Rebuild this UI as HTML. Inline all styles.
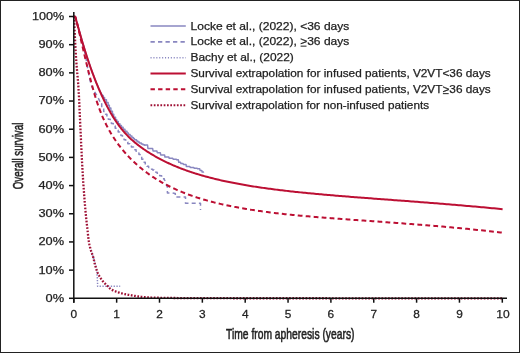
<!DOCTYPE html>
<html><head><meta charset="utf-8"><style>
html,body{margin:0;padding:0;background:#fff;}
body{width:520px;height:353px;overflow:hidden;position:relative;}
svg{position:absolute;left:0;top:0;will-change:transform;}
text{font-family:"Liberation Sans",sans-serif;fill:#222;stroke:#222;stroke-width:0.25px;}
</style></head><body>
<svg width="520" height="353" viewBox="0 0 520 353">
<rect x="0.5" y="0.5" width="519" height="352" fill="#fff" stroke="#222" stroke-width="1"/>
<g fill="none" stroke-linejoin="round">
<path d="M90.80,250.00 L91.13,250.90 L91.45,251.83 L91.78,252.77 L92.11,253.74 L92.43,254.73 L92.76,255.73 L93.08,256.75 L93.41,257.79 L93.74,258.84 L94.06,259.93 L94.39,261.04 L94.72,262.20 L95.04,263.37 L95.37,264.55 L95.69,265.80 L96.02,267.17 L96.35,268.74 L96.67,270.62 L97.00,272.70 L97.6,284 V286.3 H120.2" stroke="#8987c0" stroke-width="1.5" stroke-dasharray="1.3 1.5"/>
<path d="M74.00,16.68 L74.67,16.68 L75.33,16.68 L76.00,18.86 L76.67,21.64 L77.33,24.46 L78.00,27.24 L78.67,29.95 L79.33,32.57 L80.00,35.10 L80.67,37.52 L81.33,39.83 L82.00,42.06 L82.67,44.32 L83.33,46.70 L84.00,49.27 L84.67,52.09 L85.33,55.19 L86.00,58.63 L86.67,62.38 L87.33,66.29 L88.00,70.18 L88.67,73.91 L89.33,77.34 L90.00,80.36 L90.67,82.92 L91.33,85.07 L92.00,86.88 L92.67,88.43 L93.33,89.76 L94.00,90.94 L94.67,92.00 L95.33,93.00 L96.00,94.02 L96.67,95.11 L97.33,96.29 L98.00,97.58 L98.67,98.93 L99.33,100.35 L100.00,101.79  L100.00,101.79 V103.68 H101.72 V107.67 H103.70 V111.49 H105.57 V114.36 H106.90 V116.63 H108.31 V119.22 H110.27 V121.45 H111.39 V123.54 H113.30 V126.05 H115.19 V128.27 H116.76 V130.16 H118.17 V131.93 H119.56 V133.68 H120.92 V135.55 H122.47 V137.62 H124.07 V139.72 H125.72 V141.89 H127.80 V143.81 H129.68 V145.33 H131.40 V146.89 H133.47 V148.38 H134.79 V149.64 H136.07 V151.25 H137.77 V152.98 H138.94 V154.53 H140.09 V156.57 H141.71 V159.18 H143.27 V162.16 H145.27 V164.68 H147.00 V166.30 H148.61 V167.52 H150.21 V168.49 H151.57 V169.29 H152.70 V170.07 H154.00 V171.09 H155.79 V172.17 H157.10 V173.22 H158.57 V174.29 H159.70 V175.66 H161.61 V177.27 H162.88 V178.76 H164.26 V179.75 H164.50 L166.3,184 L167.4,187.5 V193 H172.5 L175.3,193.6 V197 H185.5 V203.3 H200.5 V210.1" stroke="#8987c0" stroke-width="1.5" stroke-dasharray="4 3.2"/>
<path d="M74.00,16.50 L74.72,16.50 L75.44,17.61 L76.15,19.91 L76.87,22.37 L77.59,24.88 L78.31,27.43 L79.03,29.98 L79.74,32.53 L80.46,35.05 L81.18,37.55 L81.90,40.03 L82.62,42.47 L83.33,44.89 L84.05,47.27 L84.77,49.61 L85.49,51.93 L86.21,54.20 L86.92,56.45 L87.64,58.65 L88.36,60.83 L89.08,62.96 L89.79,65.07 L90.51,67.13 L91.23,69.17 L91.95,71.16 L92.67,73.13 L93.38,75.06 L94.10,76.95 L94.82,78.81 L95.54,80.64 L96.26,82.43 L96.97,84.19 L97.69,85.91 L98.41,87.59 L99.13,89.21 L99.85,90.72 L100.56,92.11 L101.28,93.38 L102.00,94.57  L102.00,94.57 V95.51 H103.20 V97.41 H104.55 V99.80 H106.44 V102.59 H108.12 V105.14 H109.33 V107.90 H110.86 V111.27 H112.44 V114.28 H113.72 V117.18 H115.54 V119.67 H116.77 V121.62 H118.27 V123.63 H119.88 V125.49 H121.42 V127.27 H123.10 V129.14 H124.93 V131.18 H126.97 V132.93 H128.36 V134.47 H130.10 V136.12 H131.89 V137.53 H133.29 V138.59 H134.41 V139.83 H136.47 V141.04 H137.87 V141.94 H139.29 V142.95 H141.27 V143.96 H142.95 V144.82 H144.53 V145.34 H145.00 H145.00 L145.40,145.10 H147.55 L147.95,148.50 H152.65 L153.05,151.00 H156.90 L157.30,152.70 H160.30 L160.70,154.90 H164.55 L164.95,157.00 H168.80 L169.20,158.30 H172.75 L173.15,159.30 H176.25 L176.65,159.80 H178.35 L178.75,162.30 H180.50 L180.90,163.60 H183.05 L183.45,164.40 H186.00 L186.40,166.60 H189.85 L190.25,167.40 H193.70 L194.10,168.30 H197.10 L197.50,168.70 H199.65 L200.05,170.40 H201.75 L202.15,172.10 H203.4 V172.8" stroke="#8987c0" stroke-width="1.5"/>
<path d="M74.00,16.50 L74.00,16.51 L74.00,16.55 L74.01,16.63 L74.01,16.74 L74.02,16.89 L74.03,17.09 L74.04,17.32 L74.05,17.61 L74.06,17.93 L74.08,18.30 L74.10,18.72 L74.12,19.19 L74.14,19.71 L74.16,20.27 L74.19,20.89 L74.22,21.55 L74.25,22.26 L74.29,23.03 L74.32,23.84 L74.36,24.71 L74.40,25.63 L74.45,26.59 L74.49,27.61 L74.54,28.68 L74.59,29.80 L74.64,30.97 L74.70,32.21 L74.76,33.51 L74.82,34.87 L74.88,36.28 L74.95,37.73 L75.02,39.23 L75.09,40.75 L75.16,42.28 L75.24,43.82 L75.32,45.33 L75.40,46.85 L75.48,48.38 L75.57,49.93 L75.66,51.48 L75.75,53.05 L75.85,54.61 L75.95,56.18 L76.05,57.74 L76.15,59.31 L76.26,60.86 L76.37,62.38 L76.48,63.88 L76.60,65.35 L76.71,66.81 L76.84,68.25 L76.96,69.68 L77.09,71.12 L77.22,72.57 L77.35,74.04 L77.48,75.55 L77.62,77.11 L77.76,78.74 L77.91,80.46 L78.05,82.28 L78.20,84.24 L78.36,86.35 L78.51,88.65 L78.67,91.17 L78.83,94.01 L79.00,97.14 L79.17,100.55 L79.34,104.20 L79.51,108.05 L79.69,112.05 L79.87,116.16 L80.05,120.32 L80.24,124.48 L80.43,128.55 L80.62,132.55 L80.82,136.64 L81.02,140.83 L81.22,145.08 L81.43,149.38 L81.63,153.68 L81.85,157.95 L82.06,162.15 L82.28,166.24 L82.50,170.17 L82.72,173.95 L82.95,177.61 L83.18,181.15 L83.41,184.58 L83.65,187.91 L83.89,191.19 L84.13,194.45 L84.38,197.66 L84.63,200.83 L84.88,203.94 L85.14,206.99 L85.40,209.96 L85.66,212.85 L85.93,215.64 L86.20,218.31 L86.47,220.88 L86.75,223.38 L87.03,225.85 L87.31,228.33 L87.60,230.86 L87.88,233.55 L88.18,236.28 L88.47,238.87 L88.77,241.11 L89.08,242.88 L89.38,244.43 L89.69,245.82 L90.00,247.10 L90.32,248.29 L90.64,249.43 L90.96,250.55 L91.29,251.57 L91.62,252.51 L91.95,253.42 L92.29,254.33 L92.63,255.29 L92.97,256.36 L93.32,257.59 L93.67,259.02 L94.02,260.58 L94.38,262.19 L94.74,263.76 L95.10,265.21 L95.47,266.45 L95.84,267.62 L96.21,268.75 L96.59,269.85 L96.97,270.90 L97.36,271.90 L97.74,272.85 L98.14,273.74 L98.53,274.57 L98.93,275.33 L99.33,276.06 L99.74,276.76 L100.15,277.43 L100.56,278.06 L100.97,278.68 L101.39,279.27 L101.82,279.84 L102.24,280.39 L102.67,280.94 L103.11,281.47 L103.55,281.99 L103.99,282.50 L104.43,282.99 L104.88,283.46 L105.33,283.92 L105.79,284.37 L106.25,284.82 L106.71,285.26 L107.17,285.70 L107.64,286.15 L108.12,286.61 L108.59,287.09 L109.07,287.58 L109.56,288.05 L110.05,288.51 L110.54,288.93 L111.03,289.29 L111.53,289.60 L112.03,289.88 L112.54,290.13 L113.05,290.37 L113.56,290.60 L114.08,290.81 L114.60,291.02 L115.12,291.22 L115.65,291.42 L116.18,291.62 L116.72,291.81 L117.26,292.00 L117.80,292.18 L118.35,292.36 L118.90,292.53 L119.45,292.70 L120.01,292.87 L120.57,293.04 L121.13,293.20 L121.70,293.36 L122.27,293.51 L122.85,293.67 L123.43,293.82 L124.01,293.96 L124.60,294.10 L125.19,294.23 L125.78,294.36 L126.38,294.48 L126.99,294.59 L127.59,294.70 L128.20,294.81 L128.81,294.91 L129.43,295.01 L130.05,295.11 L130.68,295.21 L131.31,295.31 L131.94,295.41 L132.57,295.51 L133.21,295.62 L133.86,295.73 L134.50,295.84 L135.16,295.96 L135.81,296.07 L136.47,296.19 L137.13,296.30 L137.80,296.41 L138.47,296.51 L139.14,296.60 L139.82,296.68 L140.50,296.75 L141.19,296.82 L141.88,296.89 L142.57,296.96 L143.27,297.02 L143.97,297.09 L144.67,297.15 L145.38,297.20 L146.09,297.26 L146.81,297.31 L147.53,297.36 L148.26,297.40 L148.98,297.44 L149.72,297.47 L150.45,297.50 L151.19,297.53 L151.93,297.55 L152.68,297.58 L153.43,297.60 L154.19,297.63 L154.95,297.65 L155.71,297.67 L156.48,297.69 L157.25,297.71 L158.02,297.73 L158.80,297.75 L159.58,297.76 L160.37,297.78 L161.16,297.79 L161.96,297.81 L162.75,297.82 L163.56,297.84 L164.36,297.85 L165.17,297.86 L165.99,297.88 L166.80,297.89 L167.63,297.90 L168.45,297.91 L169.28,297.92 L170.12,297.93 L170.95,297.94 L171.79,297.96 L172.64,297.97 L173.49,297.98 L174.34,297.99 L175.20,298.00 L176.06,298.01 L176.93,298.02 L177.80,298.03 L178.67,298.04 L179.55,298.05 L180.43,298.07 L181.32,298.08 L182.21,298.09 L183.10,298.09 L184.00,298.10 L184.90,298.11 L185.80,298.12 L186.71,298.13 L187.63,298.14 L188.55,298.15 L189.47,298.15 L190.39,298.16 L191.32,298.17 L192.26,298.17 L193.19,298.18 L194.14,298.18 L195.08,298.19 L196.03,298.19 L196.99,298.19 L197.94,298.20 L198.91,298.20 L199.87,298.20 L200.84,298.20 L201.82,298.20 L202.80,298.20 L203.78,298.20 L204.76,298.20 L205.76,298.20 L206.75,298.21 L207.75,298.21 L208.75,298.21 L209.76,298.21 L210.77,298.21 L211.79,298.21 L212.80,298.21 L213.83,298.21 L214.86,298.21 L215.89,298.21 L216.92,298.21 L217.96,298.21 L219.01,298.22 L220.05,298.22 L221.11,298.22 L222.16,298.22 L223.22,298.22 L224.29,298.22 L225.36,298.22 L226.43,298.22 L227.51,298.22 L228.59,298.22 L229.67,298.22 L230.76,298.22 L231.85,298.22 L232.95,298.23 L234.05,298.23 L235.16,298.23 L236.27,298.23 L237.38,298.23 L238.50,298.23 L239.63,298.23 L240.75,298.23 L241.88,298.23 L243.02,298.23 L244.16,298.23 L245.30,298.23 L246.45,298.23 L247.60,298.24 L248.76,298.24 L249.92,298.24 L251.08,298.24 L252.25,298.24 L253.42,298.24 L254.60,298.24 L255.78,298.24 L256.96,298.24 L258.15,298.24 L259.35,298.24 L260.55,298.24 L261.75,298.24 L262.95,298.24 L264.16,298.25 L265.38,298.25 L266.60,298.25 L267.82,298.25 L269.05,298.25 L270.28,298.25 L271.52,298.25 L272.76,298.25 L274.00,298.25 L275.25,298.25 L276.50,298.25 L277.76,298.25 L279.02,298.25 L280.29,298.25 L281.56,298.26 L282.83,298.26 L284.11,298.26 L285.39,298.26 L286.68,298.26 L287.97,298.26 L289.26,298.26 L290.56,298.26 L291.87,298.26 L293.18,298.26 L294.49,298.26 L295.80,298.26 L297.13,298.26 L298.45,298.26 L299.78,298.26 L301.11,298.26 L302.45,298.26 L303.79,298.27 L305.14,298.27 L306.49,298.27 L307.85,298.27 L309.21,298.27 L310.57,298.27 L311.94,298.27 L313.31,298.27 L314.69,298.27 L316.07,298.27 L317.46,298.27 L318.84,298.27 L320.24,298.27 L321.64,298.27 L323.04,298.27 L324.45,298.27 L325.86,298.27 L327.27,298.27 L328.69,298.28 L330.12,298.28 L331.55,298.28 L332.98,298.28 L334.42,298.28 L335.86,298.28 L337.30,298.28 L338.76,298.28 L340.21,298.28 L341.67,298.28 L343.13,298.28 L344.60,298.28 L346.07,298.28 L347.55,298.28 L349.03,298.28 L350.51,298.28 L352.00,298.28 L353.50,298.28 L355.00,298.28 L356.50,298.28 L358.01,298.28 L359.52,298.28 L361.03,298.28 L362.55,298.29 L364.08,298.29 L365.61,298.29 L367.14,298.29 L368.68,298.29 L370.22,298.29 L371.77,298.29 L373.32,298.29 L374.87,298.29 L376.43,298.29 L378.00,298.29 L379.56,298.29 L381.14,298.29 L382.71,298.29 L384.30,298.29 L385.88,298.29 L387.47,298.29 L389.07,298.29 L390.67,298.29 L392.27,298.29 L393.88,298.29 L395.49,298.29 L397.11,298.29 L398.73,298.29 L400.36,298.29 L401.99,298.29 L403.62,298.29 L405.26,298.29 L406.90,298.29 L408.55,298.29 L410.20,298.29 L411.86,298.29 L413.52,298.29 L415.19,298.30 L416.86,298.30 L418.53,298.30 L420.21,298.30 L421.90,298.30 L423.58,298.30 L425.28,298.30 L426.97,298.30 L428.68,298.30 L430.38,298.30 L432.09,298.30 L433.81,298.30 L435.53,298.30 L437.25,298.30 L438.98,298.30 L440.71,298.30 L442.45,298.30 L444.19,298.30 L445.94,298.30 L447.69,298.30 L449.44,298.30 L451.20,298.30 L452.97,298.30 L454.73,298.30 L456.51,298.30 L458.28,298.30 L460.07,298.30 L461.85,298.30 L463.64,298.30 L465.44,298.30 L467.24,298.30 L469.04,298.30 L470.85,298.30 L472.67,298.30 L474.49,298.30 L476.31,298.30 L478.14,298.30 L479.97,298.30 L481.80,298.30 L483.64,298.30 L485.49,298.30 L487.34,298.30 L489.19,298.30 L491.05,298.30 L492.92,298.30 L494.78,298.30 L496.66,298.30 L498.53,298.30 L500.41,298.30 L502.30,298.30" stroke="#9e1034" stroke-width="2.3" stroke-dasharray="1.7 1.6"/>
<path d="M74.00,16.76 L74.00,16.76 L74.01,16.76 L74.02,16.76 L74.04,16.76 L74.07,16.76 L74.10,16.76 L74.13,16.76 L74.17,16.76 L74.22,16.76 L74.27,16.76 L74.33,16.76 L74.39,16.76 L74.45,16.76 L74.53,16.76 L74.61,16.76 L74.69,16.76 L74.78,16.76 L74.87,16.76 L74.97,16.76 L75.08,16.76 L75.19,16.76 L75.30,16.76 L75.42,16.93 L75.55,17.35 L75.68,17.80 L75.82,18.29 L75.96,18.80 L76.11,19.36 L76.26,19.94 L76.42,20.56 L76.59,21.20 L76.76,21.88 L76.93,22.59 L77.11,23.33 L77.30,24.09 L77.49,24.89 L77.69,25.71 L77.89,26.57 L78.09,27.45 L78.31,28.36 L78.53,29.29 L78.75,30.26 L78.98,31.24 L79.21,32.26 L79.45,33.30 L79.70,34.36 L79.95,35.45 L80.20,36.56 L80.46,37.70 L80.73,38.86 L81.00,40.04 L81.28,41.24 L81.56,42.47 L81.85,43.71 L82.14,44.98 L82.44,46.27 L82.75,47.58 L83.06,48.91 L83.37,50.25 L83.69,51.62 L84.02,53.00 L84.35,54.41 L84.69,55.83 L85.03,57.26 L85.37,58.72 L85.73,60.19 L86.09,61.67 L86.45,63.17 L86.82,64.69 L87.19,66.22 L87.57,67.76 L87.96,69.32 L88.35,70.89 L88.74,72.47 L89.14,74.07 L89.55,75.68 L89.96,77.30 L90.38,78.92 L90.80,80.56 L91.23,82.20 L91.66,83.84 L92.10,85.48 L92.55,87.12 L93.00,88.76 L93.45,90.39 L93.91,92.01 L94.38,93.62 L94.85,95.22 L95.32,96.80 L95.81,98.36 L96.29,99.90 L96.79,101.42 L97.28,102.92 L97.79,104.40 L98.30,105.85 L98.81,107.29 L99.33,108.70 L99.86,110.10 L100.39,111.47 L100.92,112.83 L101.46,114.16 L102.01,115.48 L102.56,116.78 L103.12,118.06 L103.68,119.32 L104.25,120.56 L104.82,121.79 L105.40,123.00 L105.99,124.19 L106.58,125.37 L107.17,126.53 L107.77,127.67 L108.38,128.80 L108.99,129.92 L109.60,131.02 L110.23,132.10 L110.85,133.17 L111.49,134.23 L112.12,135.27 L112.77,136.31 L113.42,137.32 L114.07,138.33 L114.73,139.32 L115.40,140.30 L116.07,141.27 L116.74,142.23 L117.42,143.18 L118.11,144.11 L118.80,145.04 L119.50,145.96 L120.20,146.87 L120.91,147.76 L121.62,148.65 L122.34,149.53 L123.07,150.40 L123.79,151.27 L124.53,152.12 L125.27,152.97 L126.02,153.81 L126.77,154.64 L127.52,155.47 L128.29,156.28 L129.05,157.09 L129.83,157.89 L130.60,158.69 L131.39,159.47 L132.18,160.25 L132.97,161.02 L133.77,161.79 L134.57,162.54 L135.38,163.29 L136.20,164.03 L137.02,164.77 L137.85,165.50 L138.68,166.22 L139.52,166.93 L140.36,167.64 L141.21,168.33 L142.06,169.03 L142.92,169.71 L143.78,170.39 L144.65,171.06 L145.53,171.73 L146.41,172.38 L147.29,173.04 L148.19,173.68 L149.08,174.32 L149.98,174.95 L150.89,175.57 L151.80,176.19 L152.72,176.80 L153.65,177.41 L154.57,178.01 L155.51,178.60 L156.45,179.19 L157.39,179.77 L158.34,180.34 L159.30,180.91 L160.26,181.47 L161.23,182.02 L162.20,182.57 L163.18,183.12 L164.16,183.65 L165.15,184.18 L166.14,184.71 L167.14,185.23 L168.14,185.74 L169.15,186.25 L170.17,186.75 L171.19,187.25 L172.21,187.74 L173.25,188.23 L174.28,188.71 L175.32,189.18 L176.37,189.65 L177.42,190.12 L178.48,190.57 L179.54,191.03 L180.61,191.47 L181.69,191.92 L182.77,192.35 L183.85,192.79 L184.94,193.21 L186.04,193.64 L187.14,194.05 L188.25,194.46 L189.36,194.87 L190.48,195.27 L191.60,195.67 L192.73,196.06 L193.86,196.45 L195.00,196.83 L196.14,197.21 L197.29,197.59 L198.45,197.96 L199.61,198.32 L200.77,198.68 L201.94,199.04 L203.12,199.39 L204.30,199.73 L205.49,200.08 L206.68,200.41 L207.88,200.75 L209.08,201.08 L210.29,201.40 L211.51,201.73 L212.73,202.04 L213.95,202.36 L215.18,202.66 L216.42,202.97 L217.66,203.27 L218.90,203.57 L220.16,203.86 L221.41,204.15 L222.68,204.44 L223.94,204.72 L225.22,205.00 L226.50,205.28 L227.78,205.55 L229.07,205.82 L230.37,206.08 L231.67,206.34 L232.97,206.60 L234.28,206.85 L235.60,207.10 L236.92,207.35 L238.25,207.60 L239.58,207.84 L240.92,208.08 L242.26,208.31 L243.61,208.54 L244.97,208.77 L246.32,209.00 L247.69,209.22 L249.06,209.44 L250.44,209.66 L251.82,209.87 L253.20,210.09 L254.60,210.30 L255.99,210.50 L257.39,210.71 L258.80,210.91 L260.22,211.11 L261.64,211.30 L263.06,211.50 L264.49,211.69 L265.92,211.88 L267.36,212.06 L268.81,212.25 L270.26,212.43 L271.72,212.61 L273.18,212.79 L274.65,212.96 L276.12,213.14 L277.60,213.31 L279.08,213.48 L280.57,213.64 L282.06,213.81 L283.56,213.97 L285.07,214.14 L286.58,214.30 L288.09,214.45 L289.62,214.61 L291.14,214.77 L292.67,214.92 L294.21,215.07 L295.75,215.22 L297.30,215.37 L298.85,215.52 L300.41,215.66 L301.98,215.81 L303.55,215.95 L305.12,216.09 L306.70,216.23 L308.29,216.37 L309.88,216.51 L311.48,216.65 L313.08,216.79 L314.68,216.92 L316.30,217.06 L317.92,217.19 L319.54,217.32 L321.17,217.45 L322.80,217.59 L324.44,217.72 L326.09,217.85 L327.74,217.97 L329.39,218.10 L331.05,218.23 L332.72,218.36 L334.39,218.48 L336.07,218.61 L337.75,218.74 L339.44,218.86 L341.13,218.99 L342.83,219.11 L344.54,219.24 L346.25,219.36 L347.96,219.48 L349.68,219.61 L351.41,219.73 L353.14,219.86 L354.87,219.98 L356.62,220.10 L358.36,220.23 L360.12,220.35 L361.87,220.48 L363.64,220.60 L365.41,220.73 L367.18,220.85 L368.96,220.98 L370.74,221.10 L372.53,221.23 L374.33,221.36 L376.13,221.48 L377.94,221.61 L379.75,221.74 L381.57,221.87 L383.39,222.00 L385.22,222.13 L387.05,222.26 L388.89,222.39 L390.73,222.53 L392.58,222.66 L394.44,222.79 L396.30,222.93 L398.16,223.07 L400.04,223.21 L401.91,223.34 L403.79,223.48 L405.68,223.63 L407.57,223.77 L409.47,223.91 L411.38,224.06 L413.28,224.21 L415.20,224.35 L417.12,224.50 L419.04,224.65 L420.97,224.81 L422.91,224.96 L424.85,225.12 L426.80,225.28 L428.75,225.43 L430.70,225.60 L432.67,225.76 L434.64,225.92 L436.61,226.09 L438.59,226.26 L440.57,226.43 L442.56,226.60 L444.56,226.78 L446.56,226.95 L448.56,227.13 L450.57,227.31 L452.59,227.50 L454.61,227.68 L456.64,227.87 L458.67,228.06 L460.71,228.25 L462.75,228.45 L464.80,228.65 L466.86,228.85 L468.92,229.05 L470.98,229.25 L473.05,229.46 L475.13,229.67 L477.21,229.89 L479.29,230.10 L481.39,230.32 L483.48,230.54 L485.59,230.77 L487.69,230.99 L489.81,231.23 L491.93,231.46 L494.05,231.70 L496.18,231.94 L498.31,232.18 L500.45,232.43 L502.60,232.67" stroke="#bc0f33" stroke-width="2" stroke-dasharray="4.8 3.2"/>
<path d="M74.00,16.58 L74.00,16.58 L74.01,16.58 L74.02,16.58 L74.04,16.58 L74.07,16.58 L74.10,16.58 L74.13,16.58 L74.17,16.58 L74.22,16.58 L74.27,16.58 L74.33,16.58 L74.39,16.58 L74.45,16.58 L74.53,16.58 L74.61,16.58 L74.69,16.58 L74.78,16.58 L74.87,16.58 L74.97,16.58 L75.08,16.84 L75.19,17.14 L75.30,17.48 L75.42,17.84 L75.55,18.22 L75.68,18.64 L75.82,19.08 L75.96,19.54 L76.11,20.04 L76.26,20.55 L76.42,21.09 L76.59,21.65 L76.76,22.24 L76.93,22.85 L77.11,23.48 L77.30,24.14 L77.49,24.81 L77.69,25.51 L77.89,26.23 L78.09,26.97 L78.31,27.72 L78.53,28.50 L78.75,29.30 L78.98,30.11 L79.21,30.95 L79.45,31.80 L79.70,32.67 L79.95,33.55 L80.20,34.46 L80.46,35.37 L80.73,36.31 L81.00,37.26 L81.28,38.22 L81.56,39.20 L81.85,40.19 L82.14,41.20 L82.44,42.21 L82.75,43.24 L83.06,44.29 L83.37,45.34 L83.69,46.41 L84.02,47.49 L84.35,48.57 L84.69,49.67 L85.03,50.78 L85.37,51.89 L85.73,53.02 L86.09,54.15 L86.45,55.29 L86.82,56.44 L87.19,57.59 L87.57,58.75 L87.96,59.92 L88.35,61.10 L88.74,62.27 L89.14,63.46 L89.55,64.64 L89.96,65.84 L90.38,67.03 L90.80,68.23 L91.23,69.43 L91.66,70.63 L92.10,71.84 L92.55,73.05 L93.00,74.26 L93.45,75.47 L93.91,76.69 L94.38,77.90 L94.85,79.11 L95.32,80.33 L95.81,81.54 L96.29,82.76 L96.79,83.97 L97.28,85.19 L97.79,86.40 L98.30,87.61 L98.81,88.82 L99.33,90.02 L99.86,91.23 L100.39,92.43 L100.92,93.62 L101.46,94.82 L102.01,96.01 L102.56,97.20 L103.12,98.38 L103.68,99.56 L104.25,100.73 L104.82,101.89 L105.40,103.06 L105.99,104.21 L106.58,105.36 L107.17,106.50 L107.77,107.63 L108.38,108.76 L108.99,109.87 L109.60,110.98 L110.23,112.08 L110.85,113.17 L111.49,114.25 L112.12,115.33 L112.77,116.39 L113.42,117.44 L114.07,118.47 L114.73,119.50 L115.40,120.52 L116.07,121.52 L116.74,122.51 L117.42,123.49 L118.11,124.45 L118.80,125.40 L119.50,126.34 L120.20,127.26 L120.91,128.16 L121.62,129.05 L122.34,129.93 L123.07,130.79 L123.79,131.64 L124.53,132.47 L125.27,133.30 L126.02,134.10 L126.77,134.90 L127.52,135.68 L128.29,136.45 L129.05,137.21 L129.83,137.95 L130.60,138.69 L131.39,139.41 L132.18,140.12 L132.97,140.83 L133.77,141.52 L134.57,142.21 L135.38,142.88 L136.20,143.55 L137.02,144.21 L137.85,144.86 L138.68,145.50 L139.52,146.13 L140.36,146.76 L141.21,147.38 L142.06,147.99 L142.92,148.60 L143.78,149.20 L144.65,149.80 L145.53,150.39 L146.41,150.98 L147.29,151.56 L148.19,152.13 L149.08,152.70 L149.98,153.27 L150.89,153.83 L151.80,154.38 L152.72,154.93 L153.65,155.47 L154.57,156.01 L155.51,156.54 L156.45,157.07 L157.39,157.60 L158.34,158.11 L159.30,158.63 L160.26,159.14 L161.23,159.64 L162.20,160.14 L163.18,160.63 L164.16,161.12 L165.15,161.60 L166.14,162.08 L167.14,162.56 L168.14,163.03 L169.15,163.49 L170.17,163.95 L171.19,164.41 L172.21,164.86 L173.25,165.30 L174.28,165.75 L175.32,166.18 L176.37,166.62 L177.42,167.05 L178.48,167.47 L179.54,167.89 L180.61,168.31 L181.69,168.72 L182.77,169.13 L183.85,169.53 L184.94,169.93 L186.04,170.32 L187.14,170.71 L188.25,171.10 L189.36,171.48 L190.48,171.86 L191.60,172.24 L192.73,172.61 L193.86,172.97 L195.00,173.34 L196.14,173.69 L197.29,174.05 L198.45,174.40 L199.61,174.75 L200.77,175.09 L201.94,175.43 L203.12,175.77 L204.30,176.10 L205.49,176.43 L206.68,176.76 L207.88,177.08 L209.08,177.40 L210.29,177.71 L211.51,178.03 L212.73,178.34 L213.95,178.64 L215.18,178.94 L216.42,179.24 L217.66,179.54 L218.90,179.83 L220.16,180.12 L221.41,180.40 L222.68,180.69 L223.94,180.97 L225.22,181.24 L226.50,181.52 L227.78,181.79 L229.07,182.05 L230.37,182.32 L231.67,182.58 L232.97,182.84 L234.28,183.09 L235.60,183.35 L236.92,183.60 L238.25,183.85 L239.58,184.09 L240.92,184.33 L242.26,184.57 L243.61,184.81 L244.97,185.04 L246.32,185.28 L247.69,185.51 L249.06,185.73 L250.44,185.96 L251.82,186.18 L253.20,186.40 L254.60,186.62 L255.99,186.83 L257.39,187.05 L258.80,187.26 L260.22,187.46 L261.64,187.67 L263.06,187.87 L264.49,188.08 L265.92,188.28 L267.36,188.47 L268.81,188.67 L270.26,188.86 L271.72,189.06 L273.18,189.25 L274.65,189.43 L276.12,189.62 L277.60,189.80 L279.08,189.99 L280.57,190.17 L282.06,190.35 L283.56,190.52 L285.07,190.70 L286.58,190.87 L288.09,191.05 L289.62,191.22 L291.14,191.39 L292.67,191.56 L294.21,191.72 L295.75,191.89 L297.30,192.05 L298.85,192.21 L300.41,192.37 L301.98,192.53 L303.55,192.69 L305.12,192.85 L306.70,193.01 L308.29,193.16 L309.88,193.31 L311.48,193.47 L313.08,193.62 L314.68,193.77 L316.30,193.92 L317.92,194.07 L319.54,194.21 L321.17,194.36 L322.80,194.51 L324.44,194.65 L326.09,194.80 L327.74,194.94 L329.39,195.08 L331.05,195.22 L332.72,195.37 L334.39,195.51 L336.07,195.65 L337.75,195.79 L339.44,195.92 L341.13,196.06 L342.83,196.20 L344.54,196.34 L346.25,196.48 L347.96,196.61 L349.68,196.75 L351.41,196.88 L353.14,197.02 L354.87,197.16 L356.62,197.29 L358.36,197.43 L360.12,197.56 L361.87,197.70 L363.64,197.83 L365.41,197.97 L367.18,198.10 L368.96,198.23 L370.74,198.37 L372.53,198.50 L374.33,198.64 L376.13,198.77 L377.94,198.91 L379.75,199.04 L381.57,199.18 L383.39,199.32 L385.22,199.45 L387.05,199.59 L388.89,199.73 L390.73,199.86 L392.58,200.00 L394.44,200.14 L396.30,200.28 L398.16,200.42 L400.04,200.56 L401.91,200.70 L403.79,200.84 L405.68,200.98 L407.57,201.12 L409.47,201.27 L411.38,201.41 L413.28,201.55 L415.20,201.70 L417.12,201.85 L419.04,201.99 L420.97,202.14 L422.91,202.29 L424.85,202.44 L426.80,202.59 L428.75,202.75 L430.70,202.90 L432.67,203.05 L434.64,203.21 L436.61,203.37 L438.59,203.52 L440.57,203.68 L442.56,203.84 L444.56,204.01 L446.56,204.17 L448.56,204.33 L450.57,204.50 L452.59,204.67 L454.61,204.84 L456.64,205.01 L458.67,205.18 L460.71,205.35 L462.75,205.53 L464.80,205.70 L466.86,205.88 L468.92,206.06 L470.98,206.24 L473.05,206.43 L475.13,206.61 L477.21,206.80 L479.29,206.99 L481.39,207.18 L483.48,207.37 L485.59,207.57 L487.69,207.77 L489.81,207.97 L491.93,208.17 L494.05,208.37 L496.18,208.58 L498.31,208.78 L500.45,208.99 L502.60,209.21" stroke="#bc0f33" stroke-width="2"/>
</g>
<g stroke="#111" stroke-width="1.5" fill="none">
<path d="M73.8,12 V302.7 M73.8,298.3 H507"/>
<path d="M69,298.30 H73.8"/>
<path d="M69,270.12 H73.8"/>
<path d="M69,241.94 H73.8"/>
<path d="M69,213.76 H73.8"/>
<path d="M69,185.58 H73.8"/>
<path d="M69,157.40 H73.8"/>
<path d="M69,129.22 H73.8"/>
<path d="M69,101.04 H73.8"/>
<path d="M69,72.86 H73.8"/>
<path d="M69,44.68 H73.8"/>
<path d="M69,16.50 H73.8"/>
<path d="M73.80,298.3 V302.7"/>
<path d="M116.65,298.3 V302.7"/>
<path d="M159.50,298.3 V302.7"/>
<path d="M202.35,298.3 V302.7"/>
<path d="M245.20,298.3 V302.7"/>
<path d="M288.05,298.3 V302.7"/>
<path d="M330.90,298.3 V302.7"/>
<path d="M373.75,298.3 V302.7"/>
<path d="M416.60,298.3 V302.7"/>
<path d="M459.45,298.3 V302.7"/>
<path d="M502.30,298.3 V302.7"/>
</g>
<g font-size="11" text-anchor="start">
<text x="45.6" y="301.70" textLength="18.6" lengthAdjust="spacingAndGlyphs">0%</text>
<text x="38.5" y="273.52" textLength="25.6" lengthAdjust="spacingAndGlyphs">10%</text>
<text x="38.5" y="245.34" textLength="25.6" lengthAdjust="spacingAndGlyphs">20%</text>
<text x="38.5" y="217.16" textLength="25.6" lengthAdjust="spacingAndGlyphs">30%</text>
<text x="38.5" y="188.98" textLength="25.6" lengthAdjust="spacingAndGlyphs">40%</text>
<text x="38.5" y="160.80" textLength="25.6" lengthAdjust="spacingAndGlyphs">50%</text>
<text x="38.5" y="132.62" textLength="25.6" lengthAdjust="spacingAndGlyphs">60%</text>
<text x="38.5" y="104.44" textLength="25.6" lengthAdjust="spacingAndGlyphs">70%</text>
<text x="38.5" y="76.26" textLength="25.6" lengthAdjust="spacingAndGlyphs">80%</text>
<text x="38.5" y="48.08" textLength="25.6" lengthAdjust="spacingAndGlyphs">90%</text>
<text x="32.1" y="19.90" textLength="32.2" lengthAdjust="spacingAndGlyphs">100%</text>
</g>
<g font-size="11" text-anchor="middle">
<text x="73.80" y="318.4" transform="translate(73.80 0) scale(1.08 1) translate(-73.80 0)">0</text>
<text x="116.65" y="318.4" transform="translate(116.65 0) scale(1.08 1) translate(-116.65 0)">1</text>
<text x="159.50" y="318.4" transform="translate(159.50 0) scale(1.08 1) translate(-159.50 0)">2</text>
<text x="202.35" y="318.4" transform="translate(202.35 0) scale(1.08 1) translate(-202.35 0)">3</text>
<text x="245.20" y="318.4" transform="translate(245.20 0) scale(1.08 1) translate(-245.20 0)">4</text>
<text x="288.05" y="318.4" transform="translate(288.05 0) scale(1.08 1) translate(-288.05 0)">5</text>
<text x="330.90" y="318.4" transform="translate(330.90 0) scale(1.08 1) translate(-330.90 0)">6</text>
<text x="373.75" y="318.4" transform="translate(373.75 0) scale(1.08 1) translate(-373.75 0)">7</text>
<text x="416.60" y="318.4" transform="translate(416.60 0) scale(1.08 1) translate(-416.60 0)">8</text>
<text x="459.45" y="318.4" transform="translate(459.45 0) scale(1.08 1) translate(-459.45 0)">9</text>
<text x="502.90" y="318.4" textLength="13.4" lengthAdjust="spacingAndGlyphs">10</text>
</g>
<text x="226" y="338.5" font-size="14.6" style="stroke-width:0.55px" textLength="128.5" lengthAdjust="spacingAndGlyphs">Time from apheresis (years)</text>
<text x="0" y="0" font-size="14.6" style="stroke-width:0.55px" textLength="66.5" lengthAdjust="spacingAndGlyphs" transform="translate(22.8 189.2) rotate(-90)">Overall survival</text>
<path d="M150.5,26.00 H185.8" stroke="#8987c0" stroke-width="1.7" fill="none"/>
<text x="190.5" y="29.50" font-size="11.3" textLength="158.8" lengthAdjust="spacingAndGlyphs">Locke et al., (2022), &lt;36 days</text>
<path d="M150.5,41.84 H185.8" stroke="#8987c0" stroke-width="1.6" fill="none" stroke-dasharray="4.3 3.2"/>
<text x="190.5" y="45.34" font-size="11.3" textLength="158.8" lengthAdjust="spacingAndGlyphs">Locke et al., (2022), &gt;36 days</text>
<path d="M150.5,57.68 H185.8" stroke="#8987c0" stroke-width="1.5" fill="none" stroke-dasharray="1.1 1.8"/>
<text x="190.5" y="61.18" font-size="11.3" textLength="103.3" lengthAdjust="spacingAndGlyphs">Bachy et al., (2022)</text>
<path d="M150.5,73.52 H185.8" stroke="#bc0f33" stroke-width="2" fill="none"/>
<text x="190.5" y="77.02" font-size="11.3" textLength="300.2" lengthAdjust="spacingAndGlyphs">Survival extrapolation for infused patients, V2VT&lt;36 days</text>
<path d="M150.5,89.36 H185.8" stroke="#bc0f33" stroke-width="2" fill="none" stroke-dasharray="4.4 3.2"/>
<text x="190.5" y="92.86" font-size="11.3" textLength="300.2" lengthAdjust="spacingAndGlyphs">Survival extrapolation for infused patients, V2VT&gt;36 days</text>
<path d="M150.5,105.20 H185.8" stroke="#9e1034" stroke-width="2.1" fill="none" stroke-dasharray="1.7 1.6"/>
<text x="190.5" y="108.70" font-size="11.3" textLength="238.6" lengthAdjust="spacingAndGlyphs">Survival extrapolation for non-infused patients</text>
<path d="M300.6,46.15 H306.5 M442.9,93.65 H448.7" stroke="#222" stroke-width="1" fill="none"/>
</svg>
</body></html>
